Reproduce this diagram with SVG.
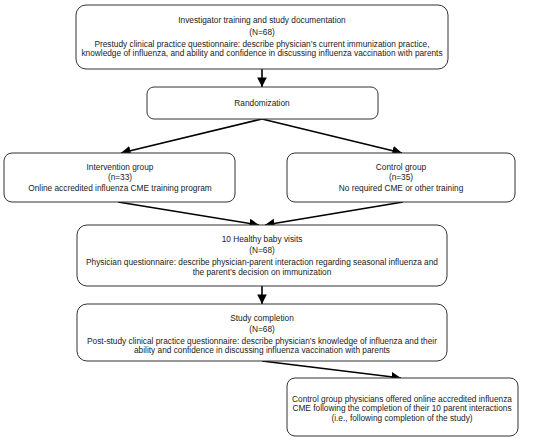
<svg xmlns="http://www.w3.org/2000/svg" width="550" height="442" viewBox="0 0 550 442">
<defs>
<style>
.box{fill:#fff;stroke:#333;stroke-width:1}
.t{font-family:"Liberation Sans",Arial,sans-serif;font-size:8.3px;fill:#1a1a1a;text-anchor:middle}
.c{stroke:#000;stroke-width:1.6;fill:none;marker-end:url(#ah)}
</style>
<marker id="ah" viewBox="0 0 10 10" refX="10" refY="5" markerWidth="6" markerHeight="6" orient="auto" markerUnits="strokeWidth">
<path d="M0,0 L10,5 L0,10 z" fill="#000"/>
</marker>
</defs>
<rect width="550" height="442" fill="#fff"/>
<g id="connectors">
<line class="c" x1="262" y1="69" x2="262" y2="87"/>
<line class="c" x1="262" y1="119" x2="121" y2="153"/>
<line class="c" x1="262" y1="119" x2="402" y2="153"/>
<line class="c" x1="118" y1="202" x2="259" y2="225"/>
<line class="c" x1="403" y1="202" x2="265" y2="225"/>
<line class="c" x1="262" y1="286" x2="262" y2="304"/>
<line class="c" x1="262" y1="361" x2="401" y2="378"/>
</g>
<g id="n1">
<rect class="box" x="76" y="5" width="372" height="64" rx="10"/>
<text class="t" x="262" y="23">Investigator training and study documentation</text>
<text class="t" x="262" y="35">(N=68)</text>
<text class="t" x="262" y="46.5">Prestudy clinical practice questionnaire: describe physician’s current immunization practice,</text>
<text class="t" x="262" y="56">knowledge of influenza, and ability and confidence in discussing influenza vaccination with parents</text>
</g>
<g id="n2">
<rect class="box" x="147" y="87" width="231" height="32" rx="7"/>
<text class="t" x="262" y="106">Randomization</text>
</g>
<g id="n3">
<rect class="box" x="4" y="153" width="231" height="49" rx="8"/>
<text class="t" x="120" y="170">Intervention group</text>
<text class="t" x="120" y="180">(n=33)</text>
<text class="t" x="120" y="190.5">Online accredited influenza CME training program</text>
</g>
<g id="n4">
<rect class="box" x="287" y="153" width="228" height="49" rx="8"/>
<text class="t" x="401" y="170">Control group</text>
<text class="t" x="401" y="180">(n=35)</text>
<text class="t" x="401" y="190.5">No required CME or other training</text>
</g>
<g id="n5">
<rect class="box" x="77" y="225" width="370" height="61" rx="10"/>
<text class="t" x="262" y="242">10 Healthy baby visits</text>
<text class="t" x="262" y="252.5">(N=68)</text>
<text class="t" x="262" y="265">Physician questionnaire: describe physician-parent interaction regarding seasonal influenza and</text>
<text class="t" x="262" y="274.5">the parent’s decision on immunization</text>
</g>
<g id="n6">
<rect class="box" x="77" y="304" width="370" height="57" rx="10"/>
<text class="t" x="262" y="320.5">Study completion</text>
<text class="t" x="262" y="331.5">(N=68)</text>
<text class="t" x="262" y="343.5">Post-study clinical practice questionnaire: describe physician’s knowledge of influenza and their</text>
<text class="t" x="262" y="352.5">ability and confidence in discussing influenza vaccination with parents</text>
</g>
<g id="n7">
<rect class="box" x="287" y="378" width="231" height="58" rx="8"/>
<text class="t" x="402" y="401.5">Control group physicians offered online accredited influenza</text>
<text class="t" x="402" y="411">CME following the completion of their 10 parent interactions</text>
<text class="t" x="402" y="420.5">(i.e., following completion of the study)</text>
</g>
</svg>
